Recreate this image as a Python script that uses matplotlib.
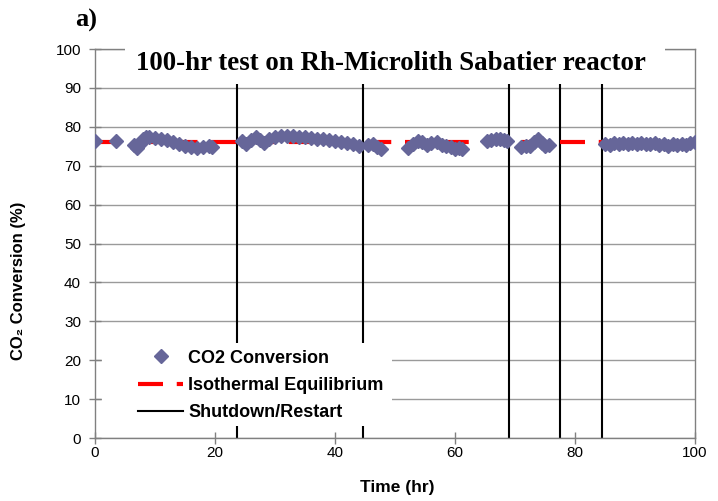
import matplotlib
matplotlib.use("Agg")
import matplotlib.pyplot as plt
from matplotlib.patches import Rectangle

# CO2 conversion readings (hr, %)
time_hr = [0.0, 3.5,
           6.5, 7.0, 7.5, 8.0, 8.5, 9.0, 10.0, 11.0, 12.0, 13.0, 14.0, 15.0,
           16.0, 17.0, 18.0, 19.0, 19.5,
           24.5, 25.2, 26.0, 26.8, 27.5, 28.2, 29.0, 30.0, 31.0, 32.0, 33.0,
           34.0, 35.0, 36.0, 37.0, 38.0, 39.0, 40.0, 41.0, 42.0, 43.0, 44.0,
           45.5, 46.3, 47.0, 47.6,
           52.2, 53.0, 53.8, 54.5, 55.3, 56.0, 57.0, 57.8, 58.5, 59.3, 60.0,
           60.7, 61.2,
           65.3, 66.0, 66.8, 67.5, 68.2, 68.7,
           71.0, 71.8, 72.5, 73.2, 73.8, 74.5, 75.0, 75.6,
           85.0, 85.8, 86.5, 87.3, 88.0, 88.8, 89.5, 90.3, 91.0, 91.8, 92.5,
           93.3, 94.0, 94.8, 95.5, 96.3, 97.0, 97.8, 98.5, 99.2, 100.0]
conversion = [76.3, 76.4,
              75.3, 74.5, 75.5, 76.8, 77.3, 77.5, 77.2, 76.8, 76.5, 76.0, 75.6, 75.2,
              74.8, 74.6, 74.8, 75.1, 74.8,
              76.3, 75.5, 76.5, 77.5, 76.5, 75.8, 76.8, 77.3, 77.6, 77.7, 77.6,
              77.4, 77.3, 77.1, 77.0, 76.8, 76.5, 76.3, 76.1, 75.8, 75.5, 75.1,
              75.3, 75.6, 74.8, 74.3,
              74.6, 75.6, 76.3, 76.0, 75.4, 75.8, 76.0, 75.3, 75.0, 74.8, 74.4,
              74.5, 74.2,
              76.3, 76.6, 76.8, 77.0, 76.6, 76.4,
              74.8, 75.0, 75.2, 76.0, 76.9, 75.8, 75.2, 75.3,
              75.6, 75.3, 75.8, 75.6, 75.9, 75.5, 75.8, 75.6, 75.9, 75.5, 75.7,
              75.8, 75.4, 75.5, 75.2, 75.5, 75.3, 75.6, 75.4, 75.8, 76.1]
equilibrium = 76.2
shutdowns = [23.7, 44.6, 69.0, 77.5, 84.5]
x_ticks = [0, 20, 40, 60, 80, 100]
y_ticks = [0, 10, 20, 30, 40, 50, 60, 70, 80, 90, 100]

plt.rcParams['font.family'] = ['Liberation Sans', 'DejaVu Sans']

fig = plt.figure(figsize=(7.18, 5.01), dpi=100)
ax = fig.add_axes([0.1323, 0.1257, 0.8357, 0.7764])

ax.set_xlim(0, 100)
ax.set_ylim(0, 100)
ax.set_xticks(x_ticks)
ax.set_yticks(y_ticks)
ax.yaxis.grid(True, color='#9a9a9a', lw=1, zorder=0)
ax.set_axisbelow(True)
for sp in ax.spines.values():
    sp.set_color('#808080')
    sp.set_linewidth(1)

ax.tick_params(direction='inout', length=9, width=1, color='#808080', labelsize=11)
ax.tick_params(axis='y', pad=5.5)
ax.tick_params(axis='x', pad=1.3)

ax.plot(time_hr, conversion, ls='none', marker='D', ms=6.8, color='#666699',
        mec='#666699', label='CO2 Conversion', zorder=3)
ax.axhline(equilibrium, color='#ff0000', lw=3, dashes=(6, 3.3),
           label='Isothermal Equilibrium', zorder=2.5)
for i, t in enumerate(shutdowns):
    ax.axvline(t, color='black', lw=1.5, zorder=2,
               label='Shutdown/Restart' if i == 0 else None)

# white background behind the legend (covers grid and shutdown lines)
ax.add_patch(Rectangle((0.0117, 0.031), 0.483, 0.213, transform=ax.transAxes,
                       facecolor='white', edgecolor='none', zorder=2.2))
ax.legend(loc='upper left', bbox_to_anchor=(0.0717, 0.227), frameon=False,
          borderpad=0, borderaxespad=0, handlelength=2.5, handletextpad=0.28,
          labelspacing=0.57, numpoints=1, prop={'weight': 'bold', 'size': 13})

ax.set_xlabel('Time (hr)', fontsize=12.5, fontweight='bold')
ax.xaxis.set_label_coords(0.503, -0.108)
ax.set_ylabel('CO₂ Conversion (%)', fontsize=12, fontweight='bold')
ax.yaxis.set_label_coords(-0.115, 0.404)

# title box sitting over the top of the plot area
fig.patches.append(Rectangle((0.1741, 0.8323), 0.752, 0.0918, transform=fig.transFigure,
                             facecolor='white', edgecolor='none', zorder=3))
fig.text(0.5446, (501 - 70) / 501, '100-hr test on Rh-Microlith Sabatier reactor',
         family='Liberation Serif', fontsize=19.4, fontweight='bold',
         ha='center', va='baseline', zorder=4)
fig.text(75 / 718, (501 - 27) / 501, 'a)', family='Liberation Serif', fontsize=19,
         fontweight='bold', ha='left', va='baseline')

fig.savefig('out.png', dpi=100)
